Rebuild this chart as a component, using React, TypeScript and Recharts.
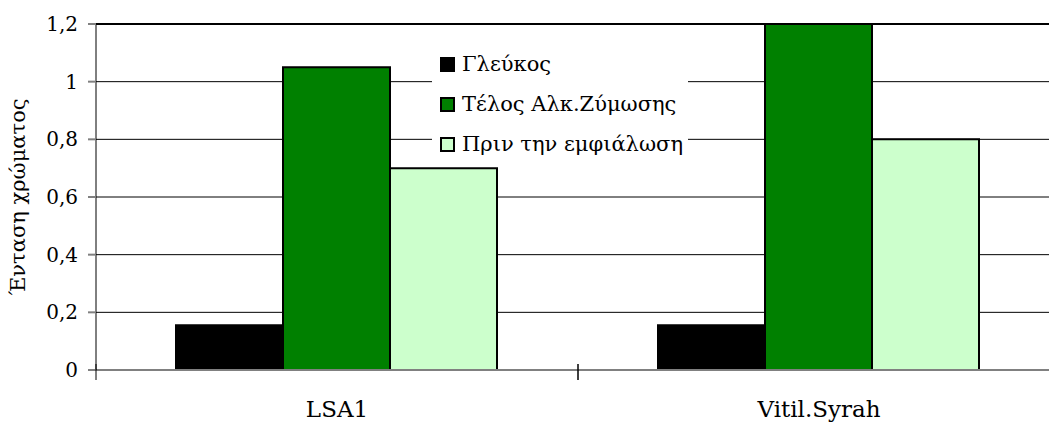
import {
  Bar,
  BarChart,
  CartesianGrid,
  ReferenceLine,
  XAxis,
  YAxis
} from "recharts";

const categories = ["LSA1", "Vitil.Syrah"];
const seriesNames = ["Γλεύκος", "Τέλος Αλκ.Ζύμωσης", "Πριν την εμφιάλωση"];
const seriesColors = ["#000000", "#008000", "#ccffcc"];
const glefkos = [0.155, 0.155];
const telosZymosis = [1.05, 1.2];
const prinEmfialosi = [0.7, 0.8];
const yTicks = [0, 0.2, 0.4, 0.6, 0.8, 1, 1.2];
const yLabel = "Ένταση χρώματος";

const FONT = "'DejaVu Serif', serif";
const CHART_W = 1062;
const CHART_H = 422;
const PLOT_W = 964;

const data = categories.map((name, i) => ({
  name,
  s0: glefkos[i],
  s1: telosZymosis[i],
  s2: prinEmfialosi[i]
}));

function formatTick(v: number): string {
  return String(v).replace(".", ",");
}

// category label plus the small ticks at the category boundaries
function CategoryTick(props: any) {
  const { x, y, payload } = props;
  const half = PLOT_W / categories.length / 2;
  return (
    <g>
      <line x1={x - half} x2={x - half} y1={y - 8} y2={y + 8} stroke="#000" />
      <line x1={x + half} x2={x + half} y1={y - 8} y2={y + 8} stroke="#000" />
      <text
        x={x}
        y={y + 45}
        textAnchor="middle"
        fontFamily={FONT}
        fontSize={23}
        fill="#000"
      >
        {payload.value}
      </text>
    </g>
  );
}

function LegendBox() {
  return (
    <div
      style={{
        position: "absolute",
        left: 432,
        top: 44,
        width: 256,
        background: "#fff",
        fontFamily: FONT,
        fontSize: 21
      }}
    >
      {seriesNames.map((name, i) => (
        <div
          key={name}
          style={{
            display: "flex",
            alignItems: "center",
            height: 40,
            paddingLeft: 8,
            color: "#000",
            whiteSpace: "nowrap"
          }}
        >
          <span
            style={{
              display: "inline-block",
              width: 15,
              height: 15,
              boxSizing: "border-box",
              border: "2px solid #000",
              background: seriesColors[i],
              marginRight: 7
            }}
          />
          {name}
        </div>
      ))}
    </div>
  );
}

export default function App() {
  return (
    <div
      style={{
        position: "absolute",
        left: 0,
        top: 0,
        width: 1049,
        height: 422,
        overflow: "hidden",
        background: "#fff"
      }}
    >
      <BarChart
        width={CHART_W}
        height={CHART_H}
        data={data}
        margin={{ top: 24, right: 2, bottom: 0, left: 0 }}
        barCategoryGap={80}
        barGap={0}
      >
        <CartesianGrid vertical={false} stroke="#000" />
        <ReferenceLine y={1.2} stroke="#000" strokeWidth={2} />
        <XAxis
          dataKey="name"
          height={52}
          axisLine={{ stroke: "#808080", strokeWidth: 2 }}
          tickLine={false}
          tickSize={0}
          tick={<CategoryTick />}
        />
        <YAxis
          width={96}
          domain={[0, 1.2]}
          ticks={yTicks}
          tickFormatter={formatTick}
          axisLine={{ stroke: "#000" }}
          tickLine={{ stroke: "#808080", strokeWidth: 2 }}
          tickSize={8}
          tickMargin={10}
          tick={{ fill: "#000", fontSize: 20, fontFamily: FONT }}
          label={{
            content: (p: any) => {
              const vb = p.viewBox;
              const cy = vb.y + vb.height / 2;
              return (
                <text
                  x={18}
                  y={cy}
                  transform={`rotate(-90, 18, ${cy})`}
                  textAnchor="middle"
                  dominantBaseline="central"
                  fontFamily={FONT}
                  fontSize={21}
                  fill="#000"
                >
                  {yLabel}
                </text>
              );
            }
          }}
        />
        <Bar dataKey="s0" name={seriesNames[0]} fill={seriesColors[0]} stroke="#000" strokeWidth={2} isAnimationActive={false} />
        <Bar dataKey="s1" name={seriesNames[1]} fill={seriesColors[1]} stroke="#000" strokeWidth={2} isAnimationActive={false} />
        <Bar dataKey="s2" name={seriesNames[2]} fill={seriesColors[2]} stroke="#000" strokeWidth={2} isAnimationActive={false} />
      </BarChart>
      <LegendBox />
    </div>
  );
}
